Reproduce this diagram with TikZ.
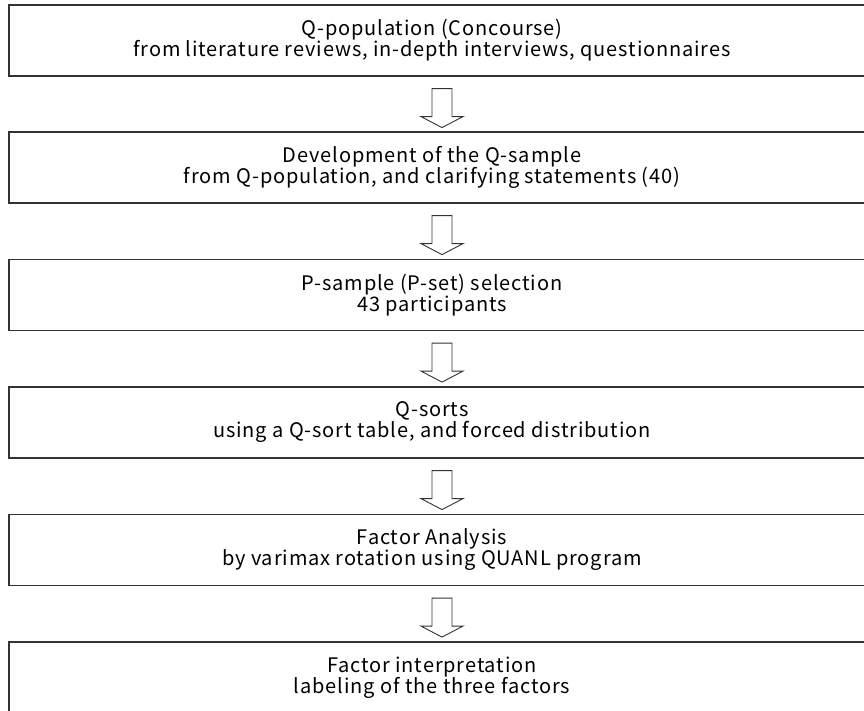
\documentclass[tikz,border=0pt]{standalone}
\usepackage{fontspec}
\setmainfont{Noto Sans CJK KR}[LetterSpace=4.3]
\usetikzlibrary{calc}
\tikzset{
  stepbox/.style={draw=black!80, line width=1.2pt, minimum width=866pt, minimum height=71pt, inner sep=0pt},
  txt/.style={align=center, font=\fontsize{20}{21}\selectfont, inner sep=0pt},
  blockarrow/.style={draw=black!80, line width=0.9pt, fill=white, line join=miter}
}
\newcommand{\flowarrow}[1]{%
  \draw[blockarrow, shift={(#1)}] (-10,0) -- (-10,28) -- (-21,28) -- (0,39) -- (21,28) -- (10,28) -- (10,0) -- cycle;}
\begin{document}
\begin{tikzpicture}[x=1pt, y=-1pt]
\useasboundingbox (0,0) rectangle (864,711);
\clip (0,0) rectangle (864,711);
\node[stepbox] (b1) at (442,40.5) {};
\node[stepbox] (b2) at (442,167.5) {};
\node[stepbox] (b3) at (442,295) {};
\node[stepbox] (b4) at (442,422.5) {};
\node[stepbox] (b5) at (442,550) {};
\node[stepbox] (b6) at (442,677.5) {};
\node[txt] (t1) at (432,40.5) {Q-population (Concourse)\\from literature reviews, in-depth interviews, questionnaires};
\node[txt] (t2) at (432,167.5) {Development of the Q-sample\\from Q-population, and clarifying statements (40)};
\node[txt] (t3) at (432,295) {P-sample (P-set) selection\\43 participants};
\node[txt] (t4) at (432,422.5) {Q-sorts\\using a Q-sort table, and forced distribution};
\node[txt] (t5) at (432,550) {Factor Analysis\\by varimax rotation using QUANL program};
\node[txt] (t6) at (432,677.5) {Factor interpretation\\labeling of the three factors};
\coordinate (a1) at ($(b1.south)+(0,12)$);
\coordinate (a2) at ($(b2.south)+(0,12)$);
\coordinate (a3) at ($(b3.south)+(0,12)$);
\coordinate (a4) at ($(b4.south)+(0,12)$);
\coordinate (a5) at ($(b5.south)+(0,12)$);
\flowarrow{a1}
\flowarrow{a2}
\flowarrow{a3}
\flowarrow{a4}
\flowarrow{a5}
\end{tikzpicture}
\end{document}
